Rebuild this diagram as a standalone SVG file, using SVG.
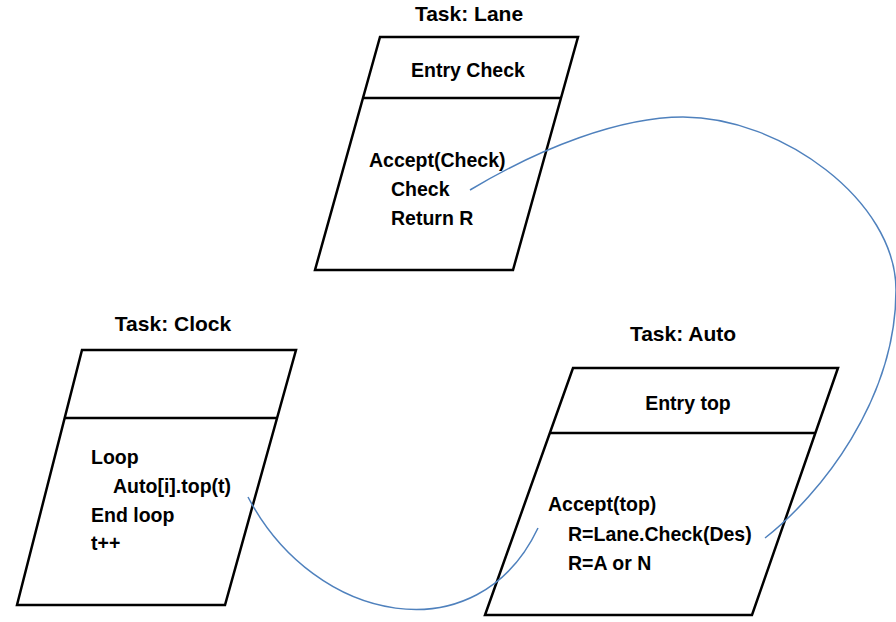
<svg xmlns="http://www.w3.org/2000/svg" width="896" height="622" viewBox="0 0 896 622">
<style>
.box{fill:#fff;stroke:#000;stroke-width:2.5;stroke-linejoin:miter}
.div{stroke:#000;stroke-width:2.5}
.t{font-family:"Liberation Sans",Arial,sans-serif;font-weight:bold;font-size:19.5px;fill:#000}
.title{font-size:21px;text-anchor:middle}
.mid{text-anchor:middle}
.conn{fill:none;stroke:#4f81bd;stroke-width:1.5}
</style>
<rect width="896" height="622" fill="#fff"/>
<g id="lane">
<text class="t title" x="469" y="21">Task: Lane</text>
<polygon class="box" points="380,37 578,37 513,270 315,270"/>
<line class="div" x1="363" y1="98" x2="561" y2="98"/>
<text class="t mid" x="468" y="77">Entry Check</text>
<text class="t" x="369" y="167">Accept(Check)</text>
<text class="t" x="391" y="196">Check</text>
<text class="t" x="391" y="225">Return R</text>
</g>
<g id="clock">
<text class="t title" x="173" y="331">Task: Clock</text>
<polygon class="box" points="82,350 296,350 225,605 17,605"/>
<line class="div" x1="64" y1="418" x2="277" y2="418"/>
<text class="t" x="91" y="464">Loop</text>
<text class="t" x="113" y="493">Auto[i].top(t)</text>
<text class="t" x="91" y="522">End loop</text>
<text class="t" x="91" y="550">t++</text>
</g>
<g id="auto">
<text class="t title" x="683" y="341">Task: Auto</text>
<polygon class="box" points="573,368 838,368 752,615 485,615"/>
<line class="div" x1="550" y1="433" x2="815" y2="433"/>
<text class="t mid" x="688" y="410">Entry top</text>
<text class="t" x="548" y="511">Accept(top)</text>
<text class="t" x="568" y="541">R=Lane.Check(Des)</text>
<text class="t" x="568" y="570">R=A or N</text>
</g>
<g id="connectors">
<path class="conn" d="M248,497 C315,625 478,655 538,528"/>
<path class="conn" d="M470,190 C540,148 620,117 683,117 C780,117 896,200 896,290 C896,400 820,495 765,538"/>
</g>
</svg>
